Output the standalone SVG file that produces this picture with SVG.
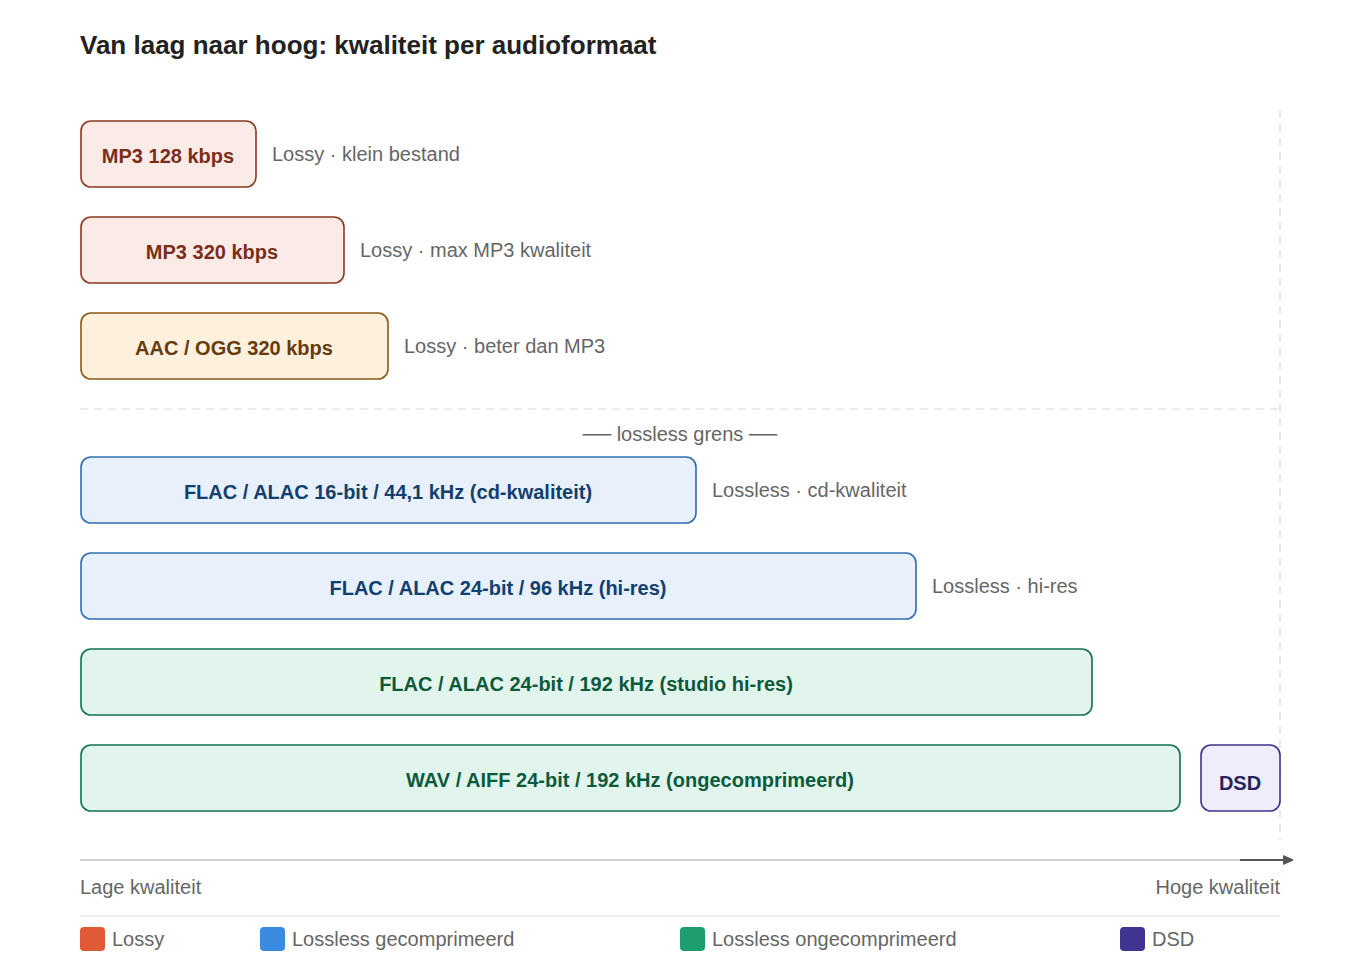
<svg xmlns="http://www.w3.org/2000/svg" width="1360" height="960" viewBox="0 0 1360 960">
<style>
text{font-family:"Liberation Sans",Arial,sans-serif}
.t{font-size:20px;font-weight:bold;text-anchor:middle}
.d{font-size:20px;fill:#666}
.lossy rect{fill:#fbebe6;stroke:#8b3a22;stroke-width:1.6}
.lossy text{fill:#7a2e1a}
.aac rect{fill:#fdf1de;stroke:#8a5a14;stroke-width:1.6}
.aac text{fill:#663c0c}
.blue rect{fill:#e7f0fb;stroke:#2f6db0;stroke-width:1.6}
.blue text{fill:#123f6e}
.green rect{fill:#e2f5ed;stroke:#15704f;stroke-width:1.6}
.green text{fill:#0c5a3c}
.dsd rect{fill:#eeedfb;stroke:#3d3588;stroke-width:1.6}
.dsd text{fill:#28245e}
</style>
<defs><marker id="ar" markerWidth="10" markerHeight="10" refX="9" refY="5" orient="auto" markerUnits="userSpaceOnUse"><path d="M0,0L12,5L0,10Z" fill="#555"/></marker></defs>
<rect width="1360" height="960" fill="#fff"/>
<text x="80" y="54" style="font-size:26px;font-weight:bold;fill:#222">Van laag naar hoog: kwaliteit per audioformaat</text>
<g id="guides" stroke="#d8d8d8" stroke-width="1.2" fill="none">
<line x1="1280" y1="110" x2="1280" y2="840" stroke-dasharray="8,6"/>
<line x1="80" y1="409" x2="1280" y2="409" stroke-dasharray="8,6"/>
</g>
<text x="680" y="441" style="font-size:20px;fill:#666;text-anchor:middle">── lossless grens ──</text>
<g id="n1" class="lossy"><rect x="81" y="121" width="175" height="66" rx="10"/><text class="t" x="168" y="163">MP3  128 kbps</text></g>
<text class="d" x="272" y="161">Lossy · klein bestand</text>
<g id="n2" class="lossy"><rect x="81" y="217" width="263" height="66" rx="10"/><text class="t" x="212" y="259">MP3  320 kbps</text></g>
<text class="d" x="360" y="257">Lossy · max MP3 kwaliteit</text>
<g id="n3" class="aac"><rect x="81" y="313" width="307" height="66" rx="10"/><text class="t" x="234" y="355">AAC / OGG  320 kbps</text></g>
<text class="d" x="404" y="353">Lossy · beter dan MP3</text>
<g id="n4" class="blue"><rect x="81" y="457" width="615" height="66" rx="10"/><text class="t" x="388" y="499">FLAC / ALAC  16-bit / 44,1 kHz  (cd-kwaliteit)</text></g>
<text class="d" x="712" y="497">Lossless · cd-kwaliteit</text>
<g id="n5" class="blue"><rect x="81" y="553" width="835" height="66" rx="10"/><text class="t" x="498" y="595">FLAC / ALAC  24-bit / 96 kHz  (hi-res)</text></g>
<text class="d" x="932" y="593">Lossless · hi-res</text>
<g id="n6" class="green"><rect x="81" y="649" width="1011" height="66" rx="10"/><text class="t" x="586" y="691">FLAC / ALAC  24-bit / 192 kHz  (studio hi-res)</text></g>
<g id="n7" class="green"><rect x="81" y="745" width="1099" height="66" rx="10"/><text class="t" x="630" y="787">WAV / AIFF  24-bit / 192 kHz  (ongecomprimeerd)</text></g>
<g id="n8" class="dsd"><rect x="1201" y="745" width="79" height="66" rx="10"/><text class="t" x="1240" y="790">DSD</text></g>
<g id="connectors">
<line x1="80" y1="860" x2="1240" y2="860" stroke="#d0d0d0" stroke-width="2"/>
<line x1="1240" y1="860" x2="1292" y2="860" stroke="#555" stroke-width="2" marker-end="url(#ar)"/>
</g>
<text class="d" x="80" y="894">Lage kwaliteit</text>
<text class="d" x="1280" y="894" text-anchor="end">Hoge kwaliteit</text>
<line x1="80" y1="916" x2="1280" y2="916" stroke="#e0e0e0" stroke-width="1.2"/>
<g id="legend">
<rect x="80" y="927" width="25" height="24" rx="4" fill="#e05a35"/><text class="d" x="112" y="946">Lossy</text>
<rect x="260" y="927" width="25" height="24" rx="4" fill="#3a8ae0"/><text class="d" x="292" y="946">Lossless gecomprimeerd</text>
<rect x="680" y="927" width="25" height="24" rx="4" fill="#1e9e6e"/><text class="d" x="712" y="946">Lossless ongecomprimeerd</text>
<rect x="1120" y="927" width="25" height="24" rx="4" fill="#3f3591"/><text class="d" x="1152" y="946">DSD</text>
</g>
</svg>
